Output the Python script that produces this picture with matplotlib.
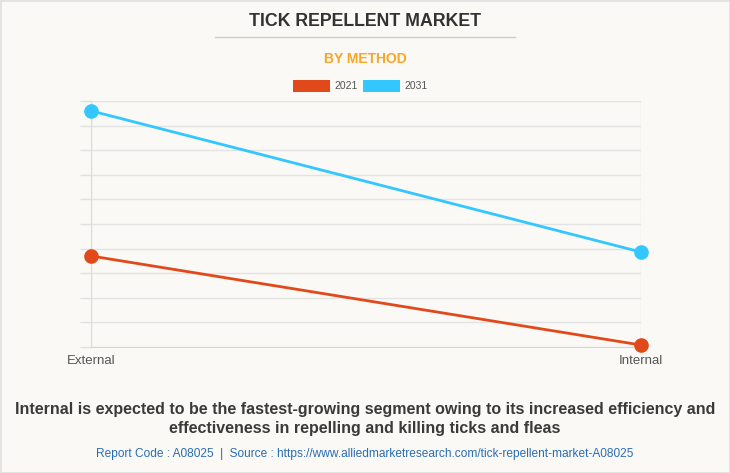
import matplotlib
matplotlib.use("Agg")
import matplotlib.pyplot as plt
from matplotlib.patches import Rectangle
from matplotlib.lines import Line2D

categories = ["External", "Internal"]
series_names = ["2021", "2031"]
values_2021 = [3.7, 0.08]
values_2031 = [9.6, 3.86]
colors = ["#e2491a", "#33c7ff"]

plt.rcParams['font.family'] = ['Liberation Sans', 'DejaVu Sans']

W, H = 730, 473
fig = plt.figure(figsize=(W/100, H/100), dpi=100)
bg = "#faf9f5"
fig.patch.set_facecolor(bg)
# outer border
fig.add_artist(Rectangle((0, 0), 1, 1, transform=fig.transFigure, fill=False,
                         edgecolor="#e2e2e2", linewidth=2))

def fx(x): return x / W
def fy(y): return 1 - y / H

ax = fig.add_axes([fx(91), fy(347), fx(641) - fx(91), fy(101) - fy(347)])
ax.set_facecolor(bg)
xs = list(range(len(categories)))
for vals, c in zip([values_2021, values_2031], colors):
    ax.plot(xs, vals, color=c, linewidth=2.0, marker="o", markersize=9.5, zorder=3, clip_on=False)

ax.set_xlim(0, 1)
ax.set_ylim(0, 10)
ax.set_yticks(range(0, 11))
ax.set_yticklabels([])
ax.tick_params(axis='y', length=8, color="#e0e0e0", width=1)
ax.grid(axis='y', color="#e3e3e3", linewidth=1)
ax.set_xticks(xs)
ax.set_xticklabels(categories, fontsize=9.5, color="#555555")
ax.tick_params(axis='x', length=0, pad=6)
for s in ["top", "right"]:
    ax.spines[s].set_visible(False)
ax.spines["left"].set_color("#dddddd")
ax.spines["bottom"].set_color("#d6d6d6")
ax.axvline(1, color="#e3e3e3", linewidth=1, zorder=1)
ax.axvline(0, color="#dddddd", linewidth=1, zorder=1)

# Titles
fig.text(0.5, fy(21), "TICK REPELLENT MARKET", ha="center", va="center",
         fontsize=12.8, fontweight="bold", color="#333333")
fig.add_artist(Line2D([fx(215), fx(515)], [fy(37), fy(37)], transform=fig.transFigure,
                      color="#cccccc", linewidth=1))
fig.text(0.5, fy(59), "BY METHOD", ha="center", va="center",
         fontsize=10, fontweight="bold", color="#f7a626")

# Legend
lx = [293, 363]
for x0, name, c in zip(lx, series_names, colors):
    fig.add_artist(Rectangle((fx(x0), fy(92)), fx(37), 12/H, transform=fig.transFigure,
                             facecolor=c, edgecolor="none"))
    fig.text(fx(x0 + 41), fy(86), name, ha="left", va="center", fontsize=7.5, color="#555555")

# Caption
fig.text(0.5, fy(409), "Internal is expected to be the fastest-growing segment owing to its increased efficiency and",
         ha="center", va="center", fontsize=11.5, fontweight="bold", color="#3a3a3a")
fig.text(0.5, fy(429), "effectiveness in repelling and killing ticks and fleas",
         ha="center", va="center", fontsize=11.5, fontweight="bold", color="#3a3a3a")
fig.text(0.5, fy(454), "Report Code : A08025  |  Source : https://www.alliedmarketresearch.com/tick-repellent-market-A08025",
         ha="center", va="center", fontsize=8.6, color="#2a6db5")

fig.savefig("out.png", dpi=100, facecolor=bg)
